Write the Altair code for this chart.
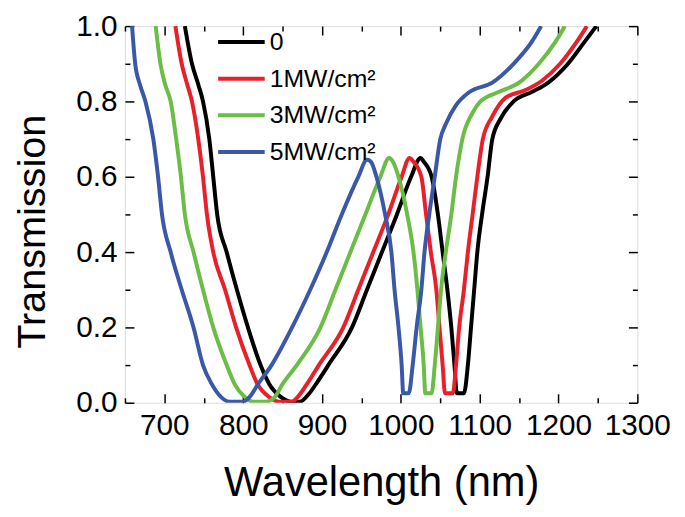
import altair as alt
import pandas as pd

# ---- data ----
series_names = ["0", "1MW/cm²", "3MW/cm²", "5MW/cm²"]
series_colors = ["#000000", "#e8202a", "#6abd45", "#3a58a8"]

wl_0 = [726, 735, 743, 749, 757, 762, 767, 779, 792, 806, 822, 833, 848, 860, 872, 882, 894, 908,
        938, 957, 976, 995, 1013, 1025, 1029, 1039, 1047, 1053, 1059, 1064, 1068, 1071, 1080,
        1085, 1089, 1093, 1097, 1103, 1110, 1116, 1127, 1143, 1166, 1187, 1212, 1233, 1248]
t_0 = [1.00, 0.90, 0.845, 0.80, 0.70, 0.60, 0.50, 0.40, 0.30, 0.20, 0.10, 0.05, 0.015, 0.003, 0.003,
       0.02, 0.055, 0.10, 0.20, 0.30, 0.40, 0.50, 0.60, 0.65, 0.64, 0.60, 0.50, 0.40, 0.30, 0.20,
       0.10, 0.025, 0.025, 0.10, 0.20, 0.30, 0.40, 0.50, 0.60, 0.70, 0.756, 0.80, 0.825, 0.85,
       0.90, 0.958, 1.00]

wl_1 = [714, 722, 729, 735, 743, 749, 754, 762, 777, 791, 808, 818, 833, 845, 862, 869, 881, 896,
        927, 946, 965, 984, 1001, 1011, 1016, 1026, 1032, 1038, 1045, 1049, 1053, 1056, 1066,
        1070, 1074, 1080, 1085, 1091, 1097, 1104, 1116, 1133, 1158, 1179, 1202, 1223, 1236]
t_1 = [1.00, 0.90, 0.845, 0.80, 0.70, 0.60, 0.50, 0.40, 0.30, 0.20, 0.10, 0.05, 0.015, 0.003, 0.003,
       0.015, 0.05, 0.10, 0.20, 0.30, 0.40, 0.50, 0.60, 0.65, 0.64, 0.60, 0.50, 0.40, 0.30, 0.20,
       0.10, 0.025, 0.025, 0.10, 0.20, 0.30, 0.40, 0.50, 0.60, 0.70, 0.76, 0.81, 0.83, 0.855,
       0.90, 0.958, 1.00]

wl_3 = [689, 695, 701, 708, 715, 721, 726, 737, 749, 762, 779, 789, 802, 812, 829, 840, 850, 868,
        898, 917, 936, 955, 974, 985, 990, 997, 1008, 1016, 1021, 1025, 1029, 1031, 1039,
        1043, 1047, 1051, 1057, 1064, 1070, 1078, 1091, 1101, 1124, 1150, 1175, 1196, 1208]
t_3 = [1.00, 0.90, 0.845, 0.80, 0.70, 0.60, 0.50, 0.40, 0.30, 0.20, 0.10, 0.05, 0.015, 0.003, 0.003,
       0.015, 0.05, 0.10, 0.20, 0.30, 0.40, 0.50, 0.60, 0.65, 0.64, 0.60, 0.50, 0.40, 0.30, 0.20,
       0.10, 0.025, 0.025, 0.10, 0.20, 0.30, 0.40, 0.50, 0.60, 0.70, 0.77, 0.80, 0.825, 0.85,
       0.90, 0.958, 1.00]

wl_5 = [659, 663, 669, 676, 686, 692, 697, 708, 722, 737, 749, 760, 772, 782, 800, 808, 819, 836,
        862, 885, 906, 925, 946, 957, 962, 969, 980, 988, 992, 997, 1001, 1003, 1010,
        1015, 1020, 1026, 1030, 1036, 1043, 1050, 1057, 1070, 1087, 1116, 1143, 1166, 1178]
t_5 = [1.00, 0.90, 0.845, 0.80, 0.70, 0.60, 0.50, 0.40, 0.30, 0.20, 0.10, 0.05, 0.015, 0.003, 0.003,
       0.015, 0.05, 0.10, 0.20, 0.30, 0.40, 0.50, 0.60, 0.645, 0.64, 0.60, 0.50, 0.40, 0.30, 0.20,
       0.10, 0.025, 0.025, 0.10, 0.20, 0.30, 0.40, 0.50, 0.60, 0.70, 0.74, 0.79, 0.825, 0.85,
       0.90, 0.958, 1.00]

x_major = [700, 800, 900, 1000, 1100, 1200, 1300]
x_minor = [650, 750, 850, 950, 1050, 1150, 1250]
y_major = [0.0, 0.2, 0.4, 0.6, 0.8, 1.0]
y_minor = [0.1, 0.3, 0.5, 0.7, 0.9]

frames = []
for name, wl, t in [(series_names[0], wl_0, t_0), (series_names[1], wl_1, t_1),
                    (series_names[2], wl_3, t_3), (series_names[3], wl_5, t_5)]:
    frames.append(pd.DataFrame({"wl": wl, "T": t, "series": name}))
df = pd.concat(frames, ignore_index=True)

FONT = "Liberation Sans, Arial, Helvetica, sans-serif"
x_scale = alt.Scale(domain=[650, 1300], nice=False, zero=False)
y_scale = alt.Scale(domain=[0, 1], nice=False, zero=False)

MAJ = 9
MIN = 5


def ax(orient, values, size, labels=False, **kw):
    return alt.Axis(orient=orient, values=values, tickSize=size, offset=-size, domain=False,
                    grid=False, labels=labels, tickColor="black", tickWidth=1.5,
                    labelFlush=False, **kw)


base = alt.Chart(df)

lines = base.mark_line(strokeWidth=4, clip=True, interpolate="monotone").encode(
    x=alt.X("wl:Q", scale=x_scale,
            axis=ax("bottom", x_major, MAJ, labels=True, format="d", labelFont=FONT,
                    labelFontSize=30, labelColor="black", labelPadding=8,
                    title="Wavelength (nm)",
                    titleFont=FONT, titleFontSize=42, titleFontWeight="normal",
                    titleColor="black", titleBaseline="alphabetic", titleY=103)),
    y=alt.Y("T:Q", scale=y_scale,
            axis=ax("left", y_major, MAJ, labels=True, format=".1f", labelFont=FONT,
                    labelFontSize=30, labelColor="black", labelPadding=8,
                    title="Transmission", titleFont=FONT, titleFontSize=40,
                    titleFontWeight="normal", titleColor="black", titleAngle=270,
                    titleAlign="center", titleBaseline="alphabetic", titleX=-90, titleY=207)),
    color=alt.Color("series:N",
                    scale=alt.Scale(domain=series_names, range=series_colors),
                    legend=alt.Legend(orient="none", legendX=92, legendY=1, title=None,
                                      symbolType="stroke", symbolSize=2209,
                                      symbolStrokeWidth=4, labelFont=FONT,
                                      labelFontSize=25, labelColor="black", labelOffset=3,
                                      clipHeight=30, rowPadding=7, padding=0)),
    detail="series:N",
)

minor_bl = base.mark_line(opacity=0).encode(
    x=alt.X("wl:Q", scale=x_scale, axis=ax("bottom", x_minor, MIN, title="")),
    y=alt.Y("T:Q", scale=y_scale, axis=ax("left", y_minor, MIN, title="")),
    detail="series:N",
)
major_tr = base.mark_line(opacity=0).encode(
    x=alt.X("wl:Q", scale=x_scale, axis=ax("top", x_major, MAJ, title="")),
    y=alt.Y("T:Q", scale=y_scale, axis=ax("right", y_major, MAJ, title="")),
    detail="series:N",
)
minor_tr = base.mark_line(opacity=0).encode(
    x=alt.X("wl:Q", scale=x_scale, axis=ax("top", x_minor, MIN, title="")),
    y=alt.Y("T:Q", scale=y_scale, axis=ax("right", y_minor, MIN, title="")),
    detail="series:N",
)

chart = alt.layer(lines, minor_bl, major_tr, minor_tr).resolve_axis(
    x="independent", y="independent"
).properties(
    width=517, height=380, autosize=alt.AutoSizeParams(type="none"),
    padding={"left": 118, "top": 16, "right": 40, "bottom": 112},
).configure_view(stroke="black", strokeWidth=2).configure(background="white")

chart.save("out.html", embed_options={"renderer": "svg", "actions": False})
